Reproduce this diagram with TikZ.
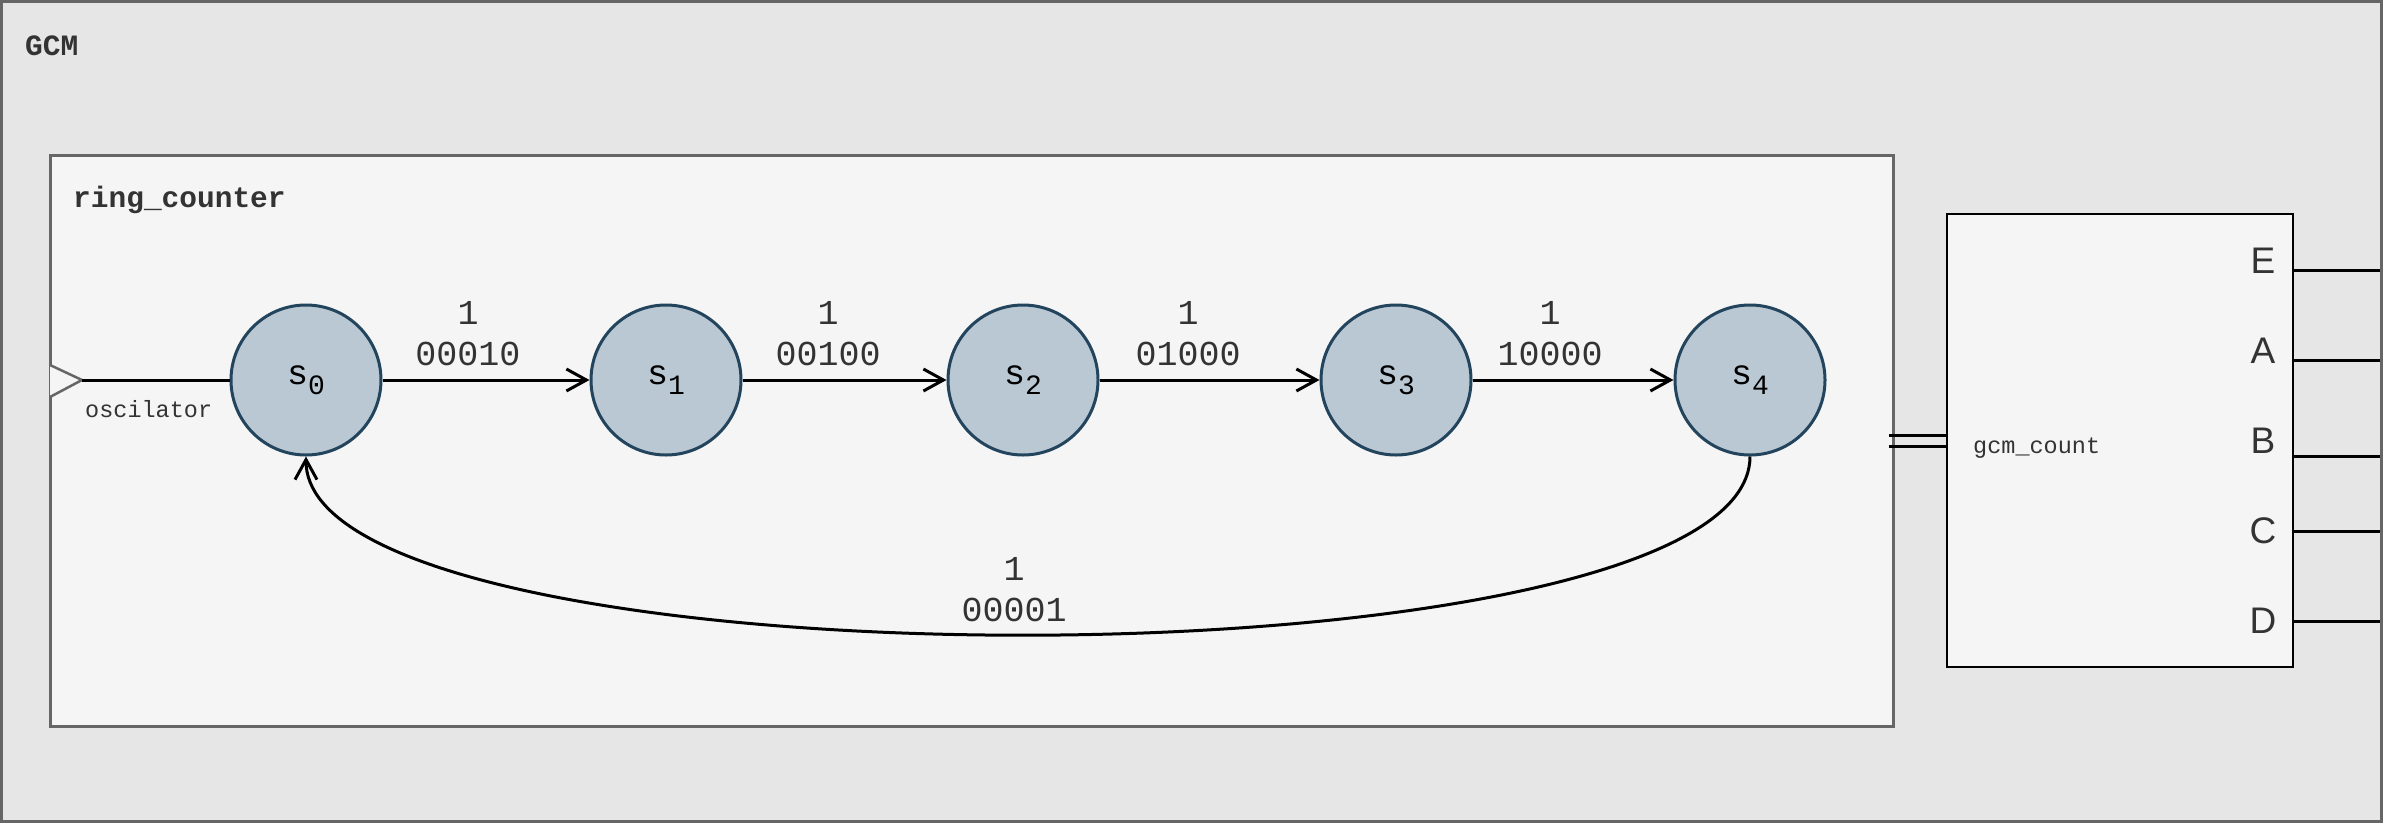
\documentclass[tikz,border=0pt]{standalone}
\usepackage{fontspec}
\setmainfont{Liberation Mono}
\newfontfamily\sansf{Liberation Sans}
\usetikzlibrary{arrows.meta}
\definecolor{outerfill}{HTML}{E6E6E6}
\definecolor{boxstroke}{HTML}{666666}
\definecolor{innerfill}{HTML}{F5F5F5}
\definecolor{statefill}{HTML}{BAC8D3}
\definecolor{statestroke}{HTML}{23445D}
\definecolor{txt}{HTML}{333333}
\newcommand{\stlab}[1]{s\raisebox{-10pt}{\fontsize{28}{28}\selectfont #1}}
\begin{document}
\begin{tikzpicture}[x=1pt,y=-1pt,
  container/.style={draw=boxstroke, fill=outerfill, line width=3pt},
  subbox/.style={draw=boxstroke, fill=innerfill, line width=3pt},
  statenode/.style={circle, draw=statestroke, fill=statefill, line width=3pt, minimum size=150pt, inner sep=0pt, text=black, font=\fontsize{35}{40}\selectfont},
  trans/.style={line width=3pt, -{Straight Barb[length=20pt,width=22pt]}},
  wire/.style={line width=3pt},
  elabel/.style={anchor=south, inner sep=0pt, align=center, text=txt, font=\fontsize{35}{41}\selectfont},
  title/.style={anchor=base west, inner sep=0pt, text=txt, font=\fontsize{29.5}{34}\selectfont\bfseries},
  smalltxt/.style={anchor=base west, inner sep=0pt, text=txt, font=\fontsize{23.5}{28}\selectfont},
  portlab/.style={anchor=base, inner sep=0pt, text=txt, font=\sansf\fontsize{37}{42}\selectfont},
  portbox/.style={draw=black, fill=innerfill, line width=2pt, minimum width=346pt, minimum height=453pt, inner sep=0pt}
]
\useasboundingbox (0,0) rectangle (2388,825);
\fill[white] (0,0) rectangle (2388,825);
% outer container
\draw[container] (1.5,1.5) rectangle (2381.5,821.5);
\node[title] (gcmtitle) at (25,55) {GCM};
% ring counter container
\draw[subbox] (50,155) rectangle (1893,726);
\node[title] (rctitle) at (73,207) {ring\_counter};
% input port
\coordinate (tip) at (82,380);
\draw[draw=boxstroke, fill=innerfill, line width=2.5pt, line join=miter] (50,365) -- (tip) -- (50,397);
\node[smalltxt] (osc) at (85,417) {oscilator};
% states
\node[statenode] (s0) at (306,380) {\stlab{0}};
\node[statenode] (s1) at (666,380) {\stlab{1}};
\node[statenode] (s2) at (1023,380) {\stlab{2}};
\node[statenode] (s3) at (1396,380) {\stlab{3}};
\node[statenode] (s4) at (1750,380) {\stlab{4}};
\draw[wire] (tip) -- (s0.west);
\draw[trans] (s0) -- (s1);
\draw[trans] (s1) -- (s2);
\draw[trans] (s2) -- (s3);
\draw[trans] (s3) -- (s4);
\draw[trans] (s4.south) .. controls (1750,694) and (306,694) .. (s0.south);
\node[elabel] (l01) at (468,366) {1\\00010};
\node[elabel] (l12) at (828,366) {1\\00100};
\node[elabel] (l23) at (1188,366) {1\\01000};
\node[elabel] (l34) at (1550,366) {1\\10000};
\node[elabel] (l40) at (1014,622) {1\\00001};
% gcm_count block
\node[portbox] (gc) at (2120,440.5) {};
\node[smalltxt] (gctxt) at (1973,453) {gcm\_count};
\coordinate (b1) at (1889,435);
\coordinate (b2) at (1889,446);
\draw[wire] (b1) -- (b1 -| gc.west);
\draw[wire] (b2) -- (b2 -| gc.west);
\node[portlab] (pE) at (2263,273) {E};
\node[portlab] (pA) at (2263,363) {A};
\node[portlab] (pB) at (2263,453) {B};
\node[portlab] (pC) at (2263,543) {C};
\node[portlab] (pD) at (2263,633) {D};
\coordinate (oE) at (2380,270);
\coordinate (oA) at (2380,360);
\coordinate (oB) at (2380,456);
\coordinate (oC) at (2380,531);
\coordinate (oD) at (2380,621);
\draw[wire] (oE -| gc.east) -- (oE);
\draw[wire] (oA -| gc.east) -- (oA);
\draw[wire] (oB -| gc.east) -- (oB);
\draw[wire] (oC -| gc.east) -- (oC);
\draw[wire] (oD -| gc.east) -- (oD);
\end{tikzpicture}
\end{document}
